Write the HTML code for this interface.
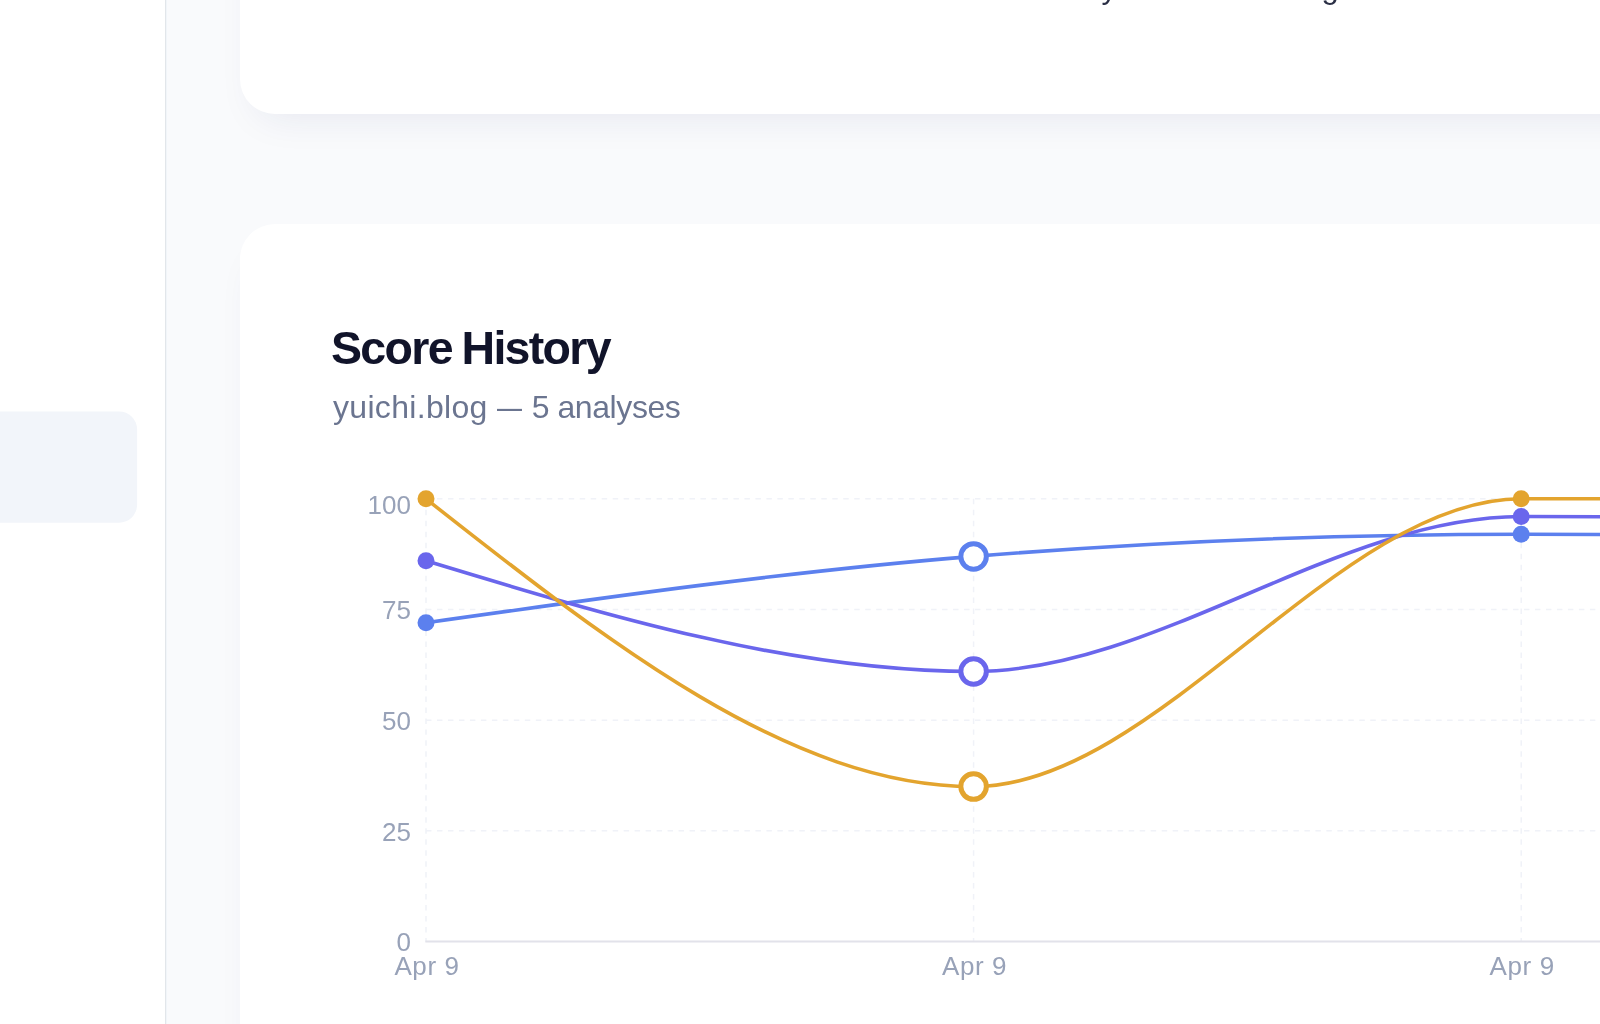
<!DOCTYPE html>
<html lang="en">
<head>
<meta charset="utf-8">
<title>Score History</title>
<style>
  html, body { margin: 0; padding: 0; }
  body {
    width: 1600px; height: 1024px; overflow: hidden; position: relative;
    background: #f9fafc;
    font-family: "Liberation Sans", sans-serif;
    -webkit-font-smoothing: antialiased;
  }
  .sidebar {
    position: absolute; left: 0; top: 0; width: 167px; height: 1024px;
    background: linear-gradient(to right, #ffffff 0, #ffffff 165px, #e2e6ea 165px, #e2e6ea 166px, #f1f5f9 166px, #f1f5f9 167px);
  }
  .sidebar svg { position: absolute; left: 0; top: 0; width: 165px; height: 1024px; }
  .card {
    position: absolute; left: 240px; width: 1500px; background: #ffffff;
    border-radius: 35px;
    box-shadow: 0 20px 40px -20px rgba(30, 40, 110, 0.10);
  }
  .card.top { top: -200px; height: 314px; }
  .card.history { top: 224px; height: 1000px; }
  .cut-line {
    position: absolute; left: 801px; top: 169.9px; white-space: nowrap;
    font-size: 31px; line-height: 36px; color: #2a2f45; letter-spacing: -0.8px;
  }
  h2.title {
    position: absolute; left: 331px; top: 322px; margin: 0; white-space: nowrap;
    font-size: 46.5px; line-height: 52px; font-weight: 700; color: #11142a;
    letter-spacing: -1.68px; word-spacing: -1.6px;
  }
  p.sub {
    position: absolute; left: 331.5px; top: 387px; margin: 0; white-space: nowrap;
    font-size: 32px; line-height: 40px; color: #6b7590; letter-spacing: -0.2px;
  }
  p.sub .dom { letter-spacing: 0.32px; margin-left: 1px; }
  p.sub .dash { display: inline-block; width: 25px; margin: 0 1px 0 0.5px; transform: scaleX(0.78); transform-origin: 0 50%; letter-spacing: 0; }
  p.sub .cnt { letter-spacing: -0.42px; }
  h2.title, p.sub, .cut-line, svg.chart { will-change: transform; }
  svg.chart { position: absolute; left: 0; top: 0; width: 1600px; height: 1024px; overflow: hidden; }
  svg.chart text { font-family: "Liberation Sans", sans-serif; font-size: 26px; fill: #98a2b8; }
</style>
</head>
<body>
  <div class="sidebar">
    <svg viewBox="0 0 165 1024"><rect x="-30" y="411.4" width="167.1" height="111.25" rx="18" ry="18" fill="#f2f5fa"/></svg>
  </div>

  <div class="card top">
    <div class="cut-line">Every score is trending.</div>
  </div>

  <div class="card history"></div>
  <h2 class="title">Score History</h2>
  <p class="sub"><span class="dom">yuichi.blog</span> <span class="dash">—</span> <span class="cnt">5 analyses</span></p>

  <svg class="chart" viewBox="0 0 1600 1024">
    <!-- grid -->
    <g stroke="#f0f2f8" stroke-width="1.5" stroke-dasharray="5.49 5.49" fill="none">
      <line x1="426" y1="498.8" x2="1700" y2="498.8"/>
      <line x1="426" y1="609.5" x2="1700" y2="609.5"/>
      <line x1="426" y1="720.2" x2="1700" y2="720.2"/>
      <line x1="426" y1="830.8" x2="1700" y2="830.8"/>
      <line x1="426" y1="498.8" x2="426" y2="941.5"/>
      <line x1="973.6" y1="498.8" x2="973.6" y2="941.5"/>
      <line x1="1521.2" y1="498.8" x2="1521.2" y2="941.5"/>
    </g>
    <line x1="425.3" y1="941.6" x2="1700" y2="941.6" stroke="#e2e2ea" stroke-width="2"/>

    <!-- y labels -->
    <g text-anchor="end">
      <text x="411" y="513.6">100</text>
      <text x="411" y="619.2">75</text>
      <text x="411" y="729.9">50</text>
      <text x="411" y="840.5">25</text>
      <text x="411" y="951.2">0</text>
    </g>
    <!-- x labels -->
    <g text-anchor="middle" letter-spacing="0.6">
      <text x="427" y="974.8">Apr 9</text>
      <text x="974.6" y="974.8">Apr 9</text>
      <text x="1522.2" y="974.8">Apr 9</text>
    </g>

    <!-- lines -->
    <g fill="none" stroke-width="3.6" stroke-linecap="butt">
      <path stroke="#5c80ee" d="M426.00,622.76C608.53,596.93,791.07,571.11,973.60,556.35C1156.13,541.59,1338.67,534.22,1521.20,534.22C1703.73,534.22,1886.27,538.64,2068.80,543.07"/>
      <path stroke="#6a66ec" d="M426.00,560.78C608.53,616.12,791.07,671.45,973.60,671.45C1156.13,671.45,1338.67,516.51,1521.20,516.51C1703.73,516.51,1886.27,520.94,2068.80,525.36"/>
      <path stroke="#e3a42e" d="M426.00,498.80C608.53,642.68,791.07,786.56,973.60,786.56C1156.13,786.56,1338.67,498.80,1521.20,498.80C1703.73,498.80,1886.27,498.80,2068.80,498.80"/>
    </g>

    <!-- dots -->
    <g>
      <circle cx="426" cy="622.8" r="8.5" fill="#5c80ee"/>
      <circle cx="1521.2" cy="534.2" r="8.5" fill="#5c80ee"/>
      <circle cx="426" cy="560.8" r="8.5" fill="#6a66ec"/>
      <circle cx="1521.2" cy="516.5" r="8.5" fill="#6a66ec"/>
      <circle cx="426" cy="498.8" r="8.5" fill="#e3a42e"/>
      <circle cx="1521.2" cy="498.8" r="8.5" fill="#e3a42e"/>
      <circle cx="973.6" cy="556.4" r="12.75" fill="#ffffff" stroke="#5c80ee" stroke-width="5"/>
      <circle cx="973.6" cy="671.5" r="12.75" fill="#ffffff" stroke="#6a66ec" stroke-width="5"/>
      <circle cx="973.6" cy="786.6" r="12.75" fill="#ffffff" stroke="#e3a42e" stroke-width="5"/>
    </g>
  </svg>
</body>
</html>
